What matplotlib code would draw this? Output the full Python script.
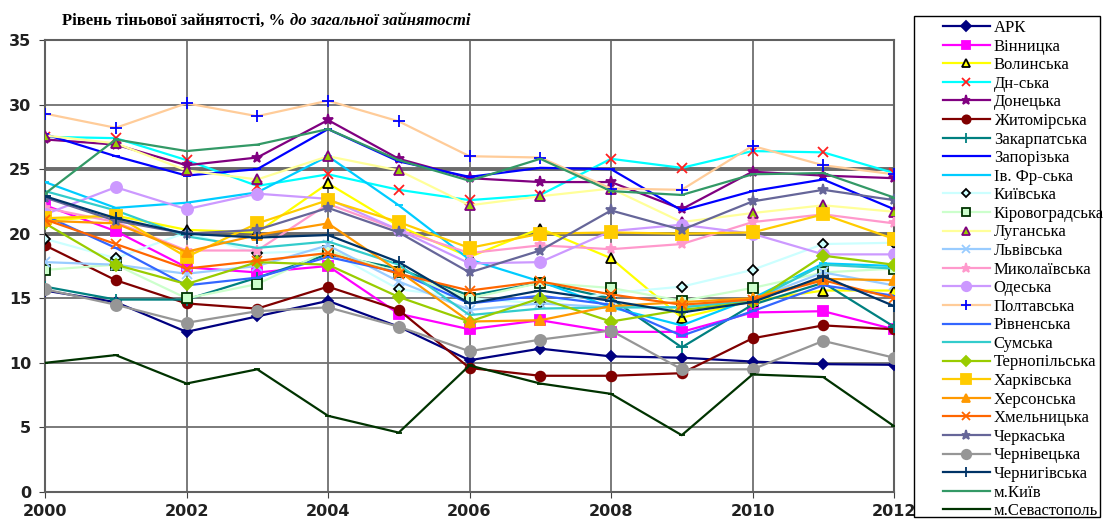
import matplotlib
matplotlib.use("Agg")
import matplotlib.pyplot as plt
from matplotlib.patches import Rectangle

years = [2000, 2001, 2002, 2003, 2004, 2005, 2006, 2007, 2008, 2009, 2010, 2011, 2012]

ark = [15.6, 14.7, 12.4, 13.6, 14.8, 12.8, 10.2, 11.1, 10.5, 10.4, 10.1, 9.9, 9.85]
vinnytsia = [22.2, 20.2, 17.4, 17.0, 17.5, 13.8, 12.6, 13.3, 12.4, 12.4, 13.9, 14.0, 12.6]
volyn = [21.0, 21.4, 20.3, 20.1, 23.9, 20.6, 18.2, 20.4, 18.1, 13.5, 14.8, 15.6, 15.6]
dnipro = [27.5, 27.4, 25.7, 23.7, 24.6, 23.4, 22.6, 23.0, 25.8, 25.1, 26.4, 26.3, 24.7]
donetsk = [27.3, 26.9, 25.3, 25.9, 28.8, 25.8, 24.3, 24.0, 24.0, 21.9, 24.8, 24.5, 24.3]
zhytomyr = [19.1, 16.4, 14.6, 14.2, 15.9, 14.1, 9.6, 9.0, 9.0, 9.2, 11.9, 12.9, 12.6]
zakarpattia = [15.9, 14.9, 14.9, 16.6, 18.4, 17.3, 15.2, 16.2, 15.0, 11.2, 14.5, 16.2, 12.8]
zaporizhzhia = [27.7, 26.0, 24.5, 25.0, 28.1, 25.6, 24.4, 25.1, 25.0, 21.8, 23.3, 24.2, 21.9]
ivano_frankivsk = [24.0, 22.0, 22.4, 23.2, 26.0, 22.2, 18.0, 16.3, 14.3, 12.9, 15.0, 17.7, 17.5]
kyiv_oblast = [19.6, 18.1, 20.1, 18.5, 18.7, 15.7, 15.0, 14.6, 15.4, 15.9, 17.2, 19.2, 19.3]
kirovohrad = [17.2, 17.6, 15.0, 16.1, 18.7, 17.0, 15.0, 16.2, 15.8, 14.8, 15.8, 17.0, 17.3]
luhansk = [27.6, 27.0, 24.9, 24.2, 26.0, 24.9, 22.2, 22.9, 23.5, 20.9, 21.6, 22.2, 21.7]
lviv = [17.8, 17.6, 16.9, 17.5, 19.1, 16.3, 14.1, 14.6, 14.3, 14.3, 14.9, 17.0, 16.0]
mykolaiv = [22.0, 20.9, 18.7, 18.7, 22.3, 20.3, 18.5, 19.1, 18.8, 19.2, 20.9, 21.5, 20.8]
odesa = [21.5, 23.6, 21.9, 23.1, 22.7, 20.3, 17.7, 17.8, 20.2, 20.7, 20.0, 18.4, 18.4]
poltava = [29.3, 28.2, 30.1, 29.1, 30.3, 28.7, 26.0, 25.9, 23.5, 23.4, 26.8, 25.3, 24.6]
rivne = [21.4, 18.9, 16.0, 16.6, 18.2, 17.0, 14.6, 15.2, 14.5, 12.1, 14.0, 16.0, 15.2]
sumy = [23.3, 21.8, 19.8, 18.9, 19.4, 17.6, 13.7, 14.2, 14.3, 14.3, 14.8, 17.6, 17.3]
ternopil = [20.8, 17.6, 16.1, 17.8, 17.6, 15.1, 13.2, 15.0, 13.2, 14.1, 14.7, 18.3, 17.6]
kharkiv = [21.2, 21.4, 18.2, 20.8, 22.6, 20.9, 18.9, 20.0, 20.1, 20.0, 20.1, 21.5, 19.6]
kherson = [21.0, 20.8, 18.6, 19.9, 20.8, 17.1, 13.2, 13.3, 14.4, 14.7, 15.0, 16.5, 16.4]
khmelnytskyi = [21.1, 19.2, 17.3, 17.9, 18.5, 16.9, 15.6, 16.3, 15.3, 14.5, 14.9, 16.4, 15.0]
cherkasy = [22.8, 21.0, 20.0, 20.3, 22.0, 20.1, 17.0, 18.7, 21.8, 20.3, 22.5, 23.4, 22.6]
chernivtsi = [15.7, 14.5, 13.1, 14.0, 14.3, 12.8, 10.9, 11.8, 12.5, 9.5, 9.5, 11.7, 10.4]
chernihiv = [22.9, 21.2, 20.0, 19.7, 19.9, 17.8, 14.6, 15.6, 14.8, 13.9, 14.7, 16.7, 14.4]
kyiv_city = [23.1, 27.3, 26.4, 26.9, 28.1, 25.7, 24.1, 25.8, 23.3, 23.0, 24.6, 24.7, 22.8]
sevastopol = [10.0, 10.6, 8.4, 9.5, 5.9, 4.6, 9.8, 8.4, 7.6, 4.4, 9.1, 8.9, 5.1]

labels = ["АРК", "Вінницка", "Волинська", "Дн-ська", "Донецька", "Житомірська",
          "Закарпатська", "Запорізька", "Ів. Фр-ська", "Київська", "Кіровоградська",
          "Луганська", "Львівська", "Миколаївська", "Одеська", "Полтавська",
          "Рівненська", "Сумська", "Тернопільська", "Харківська", "Херсонська",
          "Хмельницька", "Черкаська", "Чернівецька", "Чернигівська", "м.Київ",
          "м.Севастополь"]
series = [ark, vinnytsia, volyn, dnipro, donetsk, zhytomyr, zakarpattia, zaporizhzhia,
          ivano_frankivsk, kyiv_oblast, kirovohrad, luhansk, lviv, mykolaiv, odesa,
          poltava, rivne, sumy, ternopil, kharkiv, kherson, khmelnytskyi, cherkasy,
          chernivtsi, chernihiv, kyiv_city, sevastopol]

# style: (line colour, marker, marker face, marker edge, marker size)
styles = [
    ("#000080", "D", "#000080", "#000080", 5.5),
    ("#FF00FF", "s", "#FF00FF", "#FF00FF", 6.5),
    ("#FFFF00", "^", "#FFFF00", "#000000", 6.5),
    ("#00FFFF", "x", "#FF2020", "#FF2020", 7),
    ("#800080", "*", "#800080", "#800080", 8),
    ("#800000", "o", "#800000", "#800000", 7),
    ("#008080", "+", "#008080", "#008080", 8),
    ("#0000FF", "_", "#0000FF", "#0000FF", 6),
    ("#00CCFF", "_", "#00CCFF", "#00CCFF", 6),
    ("#CCFFFF", "D", "#CCFFFF", "#000000", 5),
    ("#CCFFCC", "s", "#CCFFCC", "#003300", 6.5),
    ("#FFFF99", "^", "#99CC00", "#800080", 7),
    ("#99CCFF", "x", "#99CCFF", "#99CCFF", 7),
    ("#FF99CC", "*", "#FF99CC", "#FF99CC", 8),
    ("#CC99FF", "o", "#CC99FF", "#CC99FF", 8),
    ("#FFCC99", "+", "#0000FF", "#0000FF", 8),
    ("#3366FF", "_", "#3366FF", "#3366FF", 6),
    ("#33CCCC", "None", "#33CCCC", "#33CCCC", 6),
    ("#99CC00", "D", "#99CC00", "#99CC00", 6),
    ("#FFCC00", "s", "#FFCC00", "#FFCC00", 8),
    ("#FF9900", "^", "#FF9900", "#FF9900", 7),
    ("#FF6600", "x", "#FF6600", "#FF6600", 7),
    ("#666699", "*", "#666699", "#666699", 8),
    ("#969696", "o", "#969696", "#969696", 8),
    ("#003366", "+", "#003366", "#003366", 8),
    ("#339966", "_", "#339966", "#339966", 5),
    ("#003300", "_", "#003300", "#003300", 5),
]

W, H = 1106, 520
fig = plt.figure(figsize=(W / 100, H / 100), dpi=100)
ax = fig.add_axes([45 / W, 28 / H, 849 / W, 452 / H])

handles = []
for vals, lab, st in zip(series, labels, styles):
    c, m, fc, ec, ms = st
    h, = ax.plot(years, vals, color=c, lw=1.6, marker=m, markersize=ms,
                 markerfacecolor=fc, markeredgecolor=ec, markeredgewidth=1.3,
                 label=lab, zorder=3)
    handles.append(h)

ax.set_xlim(2000, 2012)
ax.set_ylim(0, 35)
ax.set_xticks(range(2000, 2013, 2))
ax.set_yticks(range(0, 36, 5))
ax.grid(True, color="#707070", lw=1.3, zorder=0)
for yv in (20, 25):
    ax.axhline(yv, color="#505050", lw=2.6, zorder=1)
for s in ax.spines.values():
    s.set_color("#606060")
    s.set_linewidth(1.5)
ax.tick_params(axis="both", length=4, color="#404040", labelsize=11.5)
for t in ax.get_xticklabels() + ax.get_yticklabels():
    t.set_fontweight("bold")
    t.set_color("#202020")
ax.tick_params(axis="x", pad=5)
ax.tick_params(axis="y", pad=6)

# title in two parts
t1 = fig.text(62 / W, 1 - 21 / H, "Рівень тіньової зайнятості, %", fontsize=12,
              fontweight="bold", family="Liberation Serif", va="center", ha="left")
fig.canvas.draw()
bb = t1.get_window_extent(renderer=fig.canvas.get_renderer())
fig.text((bb.x1 + 5) / W, 1 - 21 / H, "до загальної зайнятості", fontsize=12,
         fontweight="bold", fontstyle="italic", family="Liberation Serif",
         va="center", ha="left")

# legend frame
fig.patches.append(Rectangle((914 / W, 1 - 517 / H), 186 / W, 501 / H,
                             transform=fig.transFigure, fill=False,
                             edgecolor="#000000", lw=1.0, figure=fig))
leg = fig.legend(handles=handles, loc="upper left",
                 bbox_to_anchor=(938 / W, 1 - 15 / H),
                 prop={"family": "Liberation Serif", "size": 12},
                 frameon=False,
                 labelspacing=0.155, handlelength=2.8, handletextpad=0.25,
                 borderpad=0.3, borderaxespad=0.0, markerscale=0.85)

fig.savefig("out.png", dpi=100)
